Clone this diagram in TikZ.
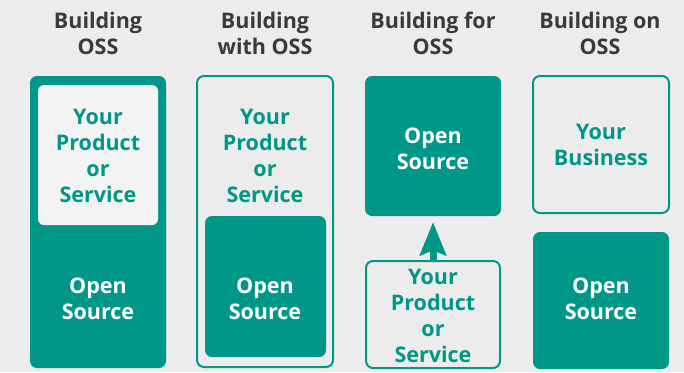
\documentclass[tikz,border=0pt]{standalone}
\usepackage{fontspec}
\setmainfont{Open Sans}
\usetikzlibrary{arrows.meta}
\definecolor{teal1}{RGB}{0,150,136}
\definecolor{bgc}{RGB}{236,236,236}
\definecolor{inner}{RGB}{243,243,243}
\definecolor{hdr}{RGB}{58,58,58}
\tikzset{
  txt/.style={inner sep=0pt, align=center, font=\fontsize{21.5}{26}\selectfont\bfseries},
  hd/.style={txt, text=hdr},
  tl/.style={txt, text=teal1},
  wh/.style={txt, text=white},
  solid box/.style={fill=teal1, rounded corners=7pt, inner sep=0pt},
  line box/.style={draw=teal1, line width=2pt, rounded corners=7pt, inner sep=0pt},
  light box/.style={fill=inner, rounded corners=6pt, inner sep=0pt}
}
\begin{document}
\begin{tikzpicture}[x=1pt,y=-1pt]
\fill[bgc] (0,0) rectangle (684,372);
\useasboundingbox (0,0) rectangle (684,372);
% headers
\node[hd] (h1) at (98,33.5) {Building\\OSS};
\node[hd] (h2) at (265,33.5) {Building\\with OSS};
\node[hd] (h3) at (433,33.5) {Building for\\OSS};
\node[hd] (h4) at (600,33.5) {Building on\\OSS};
% column 1
\node[solid box, minimum width=136pt, minimum height=292pt] (o1) at (98,222) {};
\node[light box, minimum width=120pt, minimum height=140pt] (i1) at (98,155) {};
\node[tl] (t1) at (98,155.5) {Your\\Product\\or\\Service};
\node[wh] (s1) at (98,299) {Open\\Source};
% column 2
\node[line box, minimum width=136pt, minimum height=291pt] (o2) at (265,221.5) {};
\node[solid box, minimum width=121pt, minimum height=141pt] (i2) at (265.5,286.5) {};
\node[tl] (t2) at (265,155.5) {Your\\Product\\or\\Service};
\node[wh] (s2) at (265,299) {Open\\Source};
% column 3
\node[solid box, minimum width=136pt, minimum height=140pt] (a3) at (433,146) {};
\node[wh] (s3) at (433,149) {Open\\Source};
\node[line box, minimum width=134pt, minimum height=107pt] (b3) at (433,314.5) {};
\node[tl] (t3) at (433,315.5) {Your\\Product\\or\\Service};
\draw[teal1, line width=7pt, -{Stealth[length=33pt,width=26pt,inset=5pt]}, shorten >=6pt] (b3.north) -- (a3.south);
% column 4
\node[line box, minimum width=136pt, minimum height=137pt] (a4) at (601,144.5) {};
\node[tl] (t4) at (601,145) {Your\\Business};
\node[solid box, minimum width=136pt, minimum height=137pt] (b4) at (601,300.5) {};
\node[wh] (s4) at (601,299) {Open\\Source};
\end{tikzpicture}
\end{document}
